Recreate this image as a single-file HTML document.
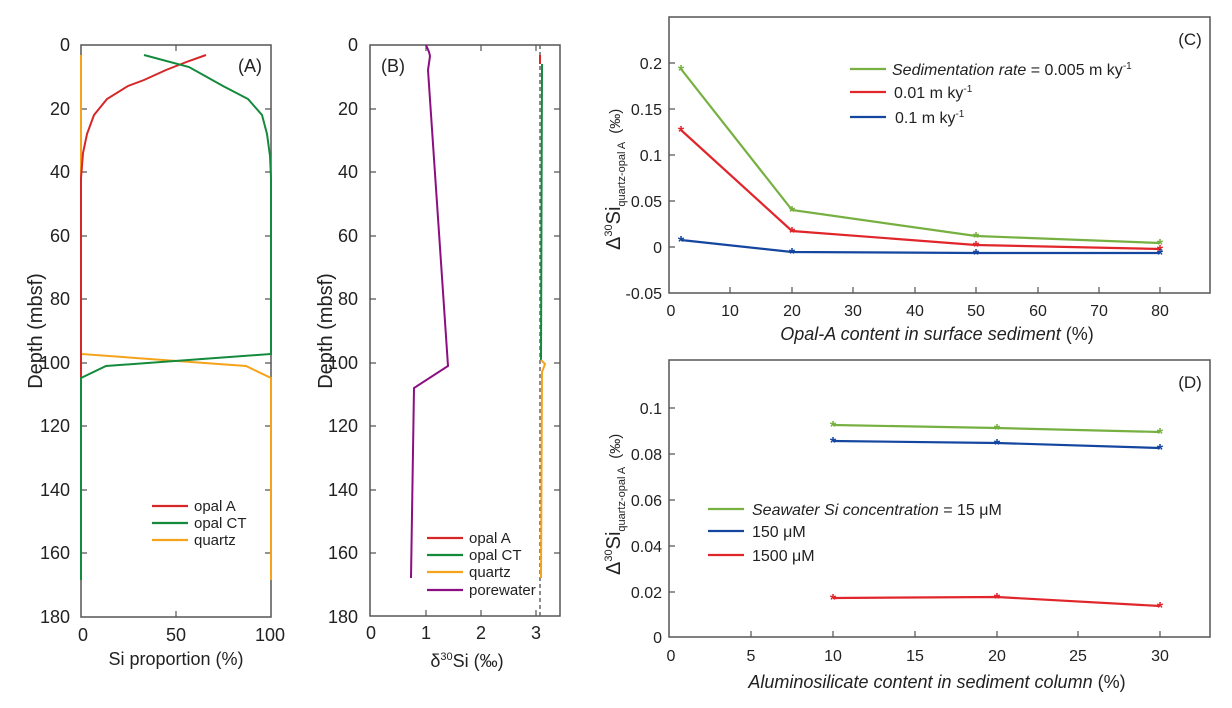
<!DOCTYPE html>
<html><head><meta charset="utf-8"><style>
body{margin:0;background:#fff}
svg{display:block;font-family:"Liberation Sans",sans-serif}
</style></head><body>
<svg width="1232" height="708" viewBox="0 0 1232 708" xmlns="http://www.w3.org/2000/svg">
<rect width="1232" height="708" fill="#fff"/>
<g stroke="#555" stroke-width="1.5" fill="none">
<rect x="81" y="45" width="190" height="572"/>
<rect x="370" y="45" width="190" height="571"/>
<rect x="669" y="17" width="541" height="276"/>
<rect x="669" y="360" width="541" height="277"/>
</g>
<g stroke="#555" stroke-width="1.2">
<path d="M81 109h6M81 172h6M81 236h6M81 299h6M81 363h6M81 426h6M81 490h6M81 553h6M271 109h-6M271 172h-6M271 236h-6M271 299h-6M271 363h-6M271 426h-6M271 490h-6M271 553h-6M176 45v6M176 617v-6"/>
<path d="M370 109h6M370 172h6M370 236h6M370 299h6M370 363h6M370 426h6M370 490h6M370 553h6M560 109h-6M560 172h-6M560 236h-6M560 299h-6M560 363h-6M560 426h-6M560 490h-6M560 553h-6M426 616v-6M481 616v-6M536 616v-6M426 45v6M481 45v6M536 45v6"/>
<path d="M669 63h6M669 109h6M669 155h6M669 201h6M669 247h6M730 293v-6M792 293v-6M853 293v-6M915 293v-6M976 293v-6M1038 293v-6M1099 293v-6M1160 293v-6"/>
<path d="M669 408h6M669 454h6M669 500h6M669 546h6M669 592h6M751 637v-6M833 637v-6M915 637v-6M997 637v-6M1078 637v-6M1160 637v-6"/>
</g>
<g font-size="18" fill="#222" text-anchor="end">
<text x="70" y="51">0</text><text x="70" y="115">20</text><text x="70" y="178">40</text><text x="70" y="242">60</text><text x="70" y="305">80</text><text x="70" y="369">100</text><text x="70" y="432">120</text><text x="70" y="496">140</text><text x="70" y="559">160</text><text x="70" y="623">180</text>
<text x="358" y="51">0</text><text x="358" y="115">20</text><text x="358" y="178">40</text><text x="358" y="242">60</text><text x="358" y="305">80</text><text x="358" y="369">100</text><text x="358" y="432">120</text><text x="358" y="496">140</text><text x="358" y="559">160</text><text x="358" y="623">180</text>
</g>
<g font-size="18" fill="#222" text-anchor="middle">
<text x="83" y="641">0</text><text x="176" y="641">50</text><text x="270" y="641">100</text>
<text x="371" y="639">0</text><text x="426" y="639">1</text><text x="481" y="639">2</text><text x="536" y="639">3</text>
<text x="176" y="665">Si proportion (%)</text>
<text x="467" y="667">δ<tspan font-size="11" dy="-7">30</tspan><tspan dy="7">Si (‰)</tspan></text>
<text transform="translate(42,331) rotate(-90)" font-size="20">Depth (mbsf)</text>
<text transform="translate(332,331) rotate(-90)" font-size="20">Depth (mbsf)</text>
<text x="250" y="72" font-size="18">(A)</text>
<text x="393" y="72" font-size="18">(B)</text>
</g>
<g font-size="16" fill="#222" text-anchor="end">
<text x="662" y="69">0.2</text><text x="662" y="115">0.15</text><text x="662" y="161">0.1</text><text x="662" y="207">0.05</text><text x="662" y="253">0</text><text x="662" y="299">-0.05</text>
<text x="662" y="414">0.1</text><text x="662" y="460">0.08</text><text x="662" y="506">0.06</text><text x="662" y="552">0.04</text><text x="662" y="598">0.02</text><text x="662" y="643">0</text>
</g>
<g font-size="16" fill="#222" text-anchor="middle">
<text x="671" y="316">0</text><text x="730" y="316">10</text><text x="792" y="316">20</text><text x="853" y="316">30</text><text x="915" y="316">40</text><text x="976" y="316">50</text><text x="1038" y="316">60</text><text x="1099" y="316">70</text><text x="1160" y="316">80</text>
<text x="671" y="661">0</text><text x="751" y="661">5</text><text x="833" y="661">10</text><text x="915" y="661">15</text><text x="997" y="661">20</text><text x="1078" y="661">25</text><text x="1160" y="661">30</text>
<text x="937" y="340" font-size="18"><tspan font-style="italic">Opal-A content in surface sediment</tspan> (%)</text>
<text x="937" y="688" font-size="18"><tspan font-style="italic">Aluminosilicate content in sediment column</tspan> (%)</text>
<text x="1190" y="45" font-size="17">(C)</text>
<text x="1190" y="388" font-size="17">(D)</text>
</g>
<g fill="#222">
<text transform="translate(620,250) rotate(-90)" font-size="20">Δ<tspan font-size="11" dy="-8">30</tspan><tspan dy="8">Si</tspan><tspan font-size="11" dy="5">quartz-opal A</tspan><tspan font-size="15" dy="-5" dx="8">(‰)</tspan></text>
<text transform="translate(620,575) rotate(-90)" font-size="20">Δ<tspan font-size="11" dy="-8">30</tspan><tspan dy="8">Si</tspan><tspan font-size="11" dy="5">quartz-opal A</tspan><tspan font-size="15" dy="-5" dx="8">(‰)</tspan></text>
</g>
<g fill="none" stroke-width="2">
<polyline stroke="#f5a31a" points="81,55 81,354 246,366 271,378 271,580"/>
<polyline stroke="#d62728" points="206,55 189,61 166,70 144,80 128,86 107,99 94,115 87,134 83,153 81,178 81,378"/>
<polyline stroke="#138a3c" points="144,55 189,67 223,86 248,99 262,115 267,134 270,156 271,178 271,354 106,366 81,378 81,580"/>
</g>
<g fill="none" stroke-width="2">
<line x1="540" y1="45" x2="540" y2="616" stroke="#666" stroke-dasharray="4,3" stroke-width="1.5"/>
<polyline stroke="#d62728" points="540,55 540,64"/>
<polyline stroke="#138a3c" points="542,64 541,360"/>
<polyline stroke="#f5a31a" points="541,360 545,364 542,372 541,578"/>
<polyline stroke="#8b0f82" points="426,45 429,52 430,56 428,70 448,366 414,388 411,578"/>
</g>
<g stroke-width="2.2">
<line x1="152" y1="506" x2="188" y2="506" stroke="#d62728"/>
<line x1="152" y1="523" x2="188" y2="523" stroke="#138a3c"/>
<line x1="152" y1="540" x2="188" y2="540" stroke="#f5a31a"/>
<line x1="427" y1="538" x2="463" y2="538" stroke="#d62728"/>
<line x1="427" y1="555" x2="463" y2="555" stroke="#138a3c"/>
<line x1="427" y1="572" x2="463" y2="572" stroke="#f5a31a"/>
<line x1="427" y1="590" x2="463" y2="590" stroke="#8b0f82"/>
</g>
<g font-size="15" fill="#222">
<text x="194" y="511">opal A</text><text x="194" y="528">opal CT</text><text x="194" y="545">quartz</text>
<text x="469" y="543">opal A</text><text x="469" y="560">opal CT</text><text x="469" y="577">quartz</text><text x="469" y="595">porewater</text>
</g>
<g fill="none" stroke-width="2.2">
<polyline stroke="#76b041" points="681,69 792,210 976,236 1160,243"/>
<polyline stroke="#e0262b" points="681,130 792,231 976,245 1160,249"/>
<polyline stroke="#1446a0" points="681,240 792,252 976,253 1160,253"/>
<polyline stroke="#76b041" points="833,425 997,428 1160,432"/>
<polyline stroke="#1446a0" points="833,441 997,443 1160,448"/>
<polyline stroke="#e0262b" points="833,598 997,597 1160,606"/>
</g>
<g font-size="16" text-anchor="middle" font-weight="bold">
<g fill="#76b041"><text x="681" y="76">*</text><text x="792" y="217">*</text><text x="976" y="243">*</text><text x="1160" y="250">*</text><text x="833" y="432">*</text><text x="997" y="435">*</text><text x="1160" y="439">*</text></g>
<g fill="#e0262b"><text x="681" y="137">*</text><text x="792" y="238">*</text><text x="976" y="252">*</text><text x="1160" y="256">*</text><text x="833" y="605">*</text><text x="997" y="604">*</text><text x="1160" y="613">*</text></g>
<g fill="#1446a0"><text x="681" y="247">*</text><text x="792" y="259">*</text><text x="976" y="260">*</text><text x="1160" y="260">*</text><text x="833" y="448">*</text><text x="997" y="450">*</text><text x="1160" y="455">*</text></g>
</g>
<g stroke-width="2.2">
<line x1="850" y1="69" x2="886" y2="69" stroke="#76b041"/>
<line x1="850" y1="92" x2="886" y2="92" stroke="#e0262b"/>
<line x1="850" y1="117" x2="886" y2="117" stroke="#1446a0"/>
<line x1="708" y1="509" x2="744" y2="509" stroke="#76b041"/>
<line x1="708" y1="531" x2="744" y2="531" stroke="#1446a0"/>
<line x1="708" y1="555" x2="744" y2="555" stroke="#e0262b"/>
</g>
<g font-size="16" fill="#222">
<text x="892" y="75"><tspan font-style="italic">Sedimentation rate</tspan>  = 0.005 m ky<tspan font-size="10" dy="-6">-1</tspan></text>
<text x="894" y="98">0.01 m ky<tspan font-size="10" dy="-6">-1</tspan></text>
<text x="895" y="123">0.1 m ky<tspan font-size="10" dy="-6">-1</tspan></text>
<text x="752" y="515"><tspan font-style="italic">Seawater Si concentration</tspan>  = 15 μM</text>
<text x="752" y="537">150 μM</text>
<text x="752" y="561">1500 μM</text>
</g>
</svg>
</body></html>
